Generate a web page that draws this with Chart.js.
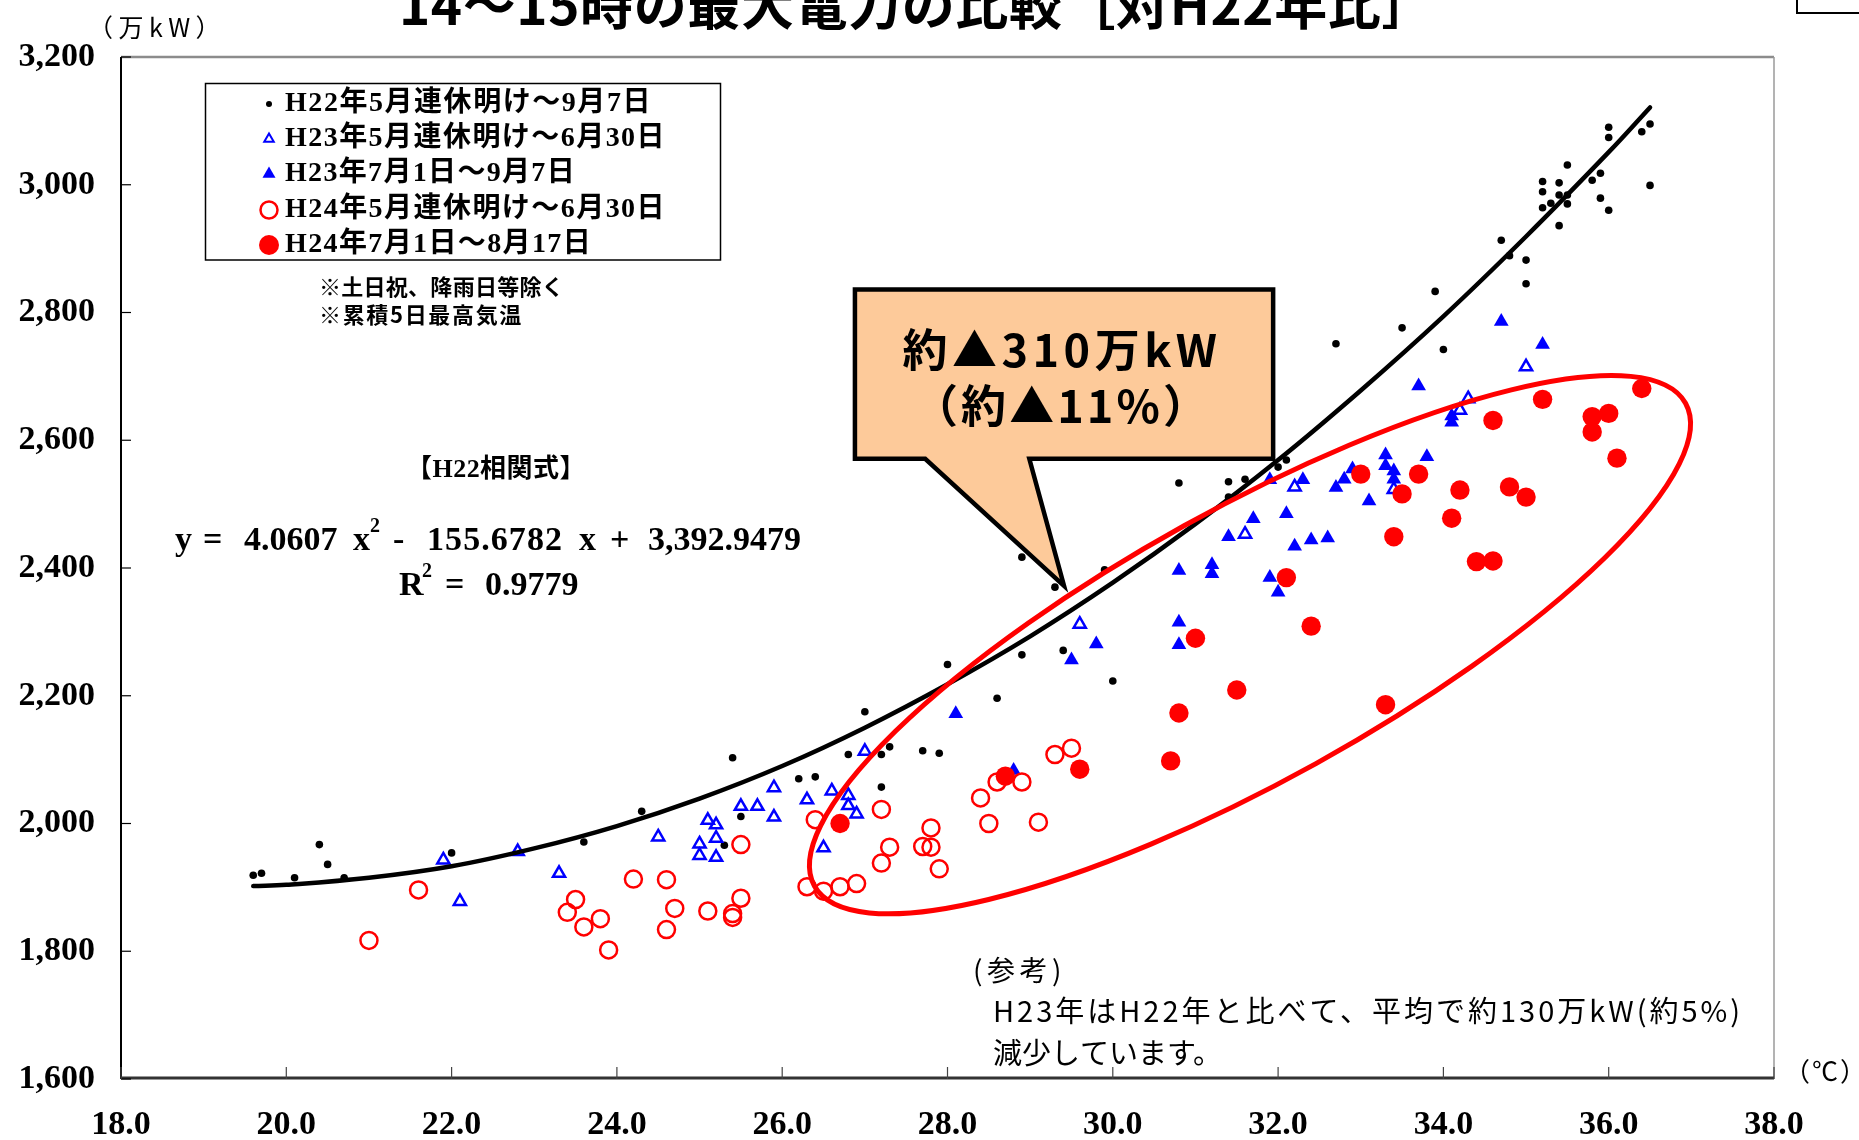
<!DOCTYPE html>
<html lang="ja">
<head>
<meta charset="utf-8">
<title>14～15時の最大電力の比較</title>
<script src="https://cdn.jsdelivr.net/npm/chart.js@4.4.1/dist/chart.umd.min.js"></script>
<style>
  html, body { margin: 0; padding: 0; background: #fff; }
  #wrap { width: 1859px; height: 1140px; position: relative; }
</style>
</head>
<body>
<div id="wrap"><canvas id="myChart" width="1859" height="1140"></canvas></div>
<script>
// 累積5日最高気温(℃) と 14～15時の最大電力(万kW)
const h22Temp  = [19.6, 19.7, 20.1, 20.4, 20.5, 20.7, 22.0, 23.6, 24.3, 25.3, 25.4, 25.5, 26.2, 26.4, 26.8, 27.0, 27.2, 27.3, 27.2, 27.7, 27.9, 28.0, 28.6, 28.9, 28.9, 29.3, 29.4, 29.9, 30.0, 30.8, 31.4, 31.6, 31.4, 32.0, 32.1, 32.7, 33.5, 33.9, 34.0, 34.7, 34.8, 35.0, 35.0, 35.2, 35.2, 35.2, 35.3, 35.4, 35.4, 35.4, 35.5, 35.5, 35.5, 35.8, 35.9, 35.9, 36.0, 36.0, 36.0, 36.4, 36.5, 36.5];
const h22Power = [1919, 1922, 1915, 1967, 1936, 1915, 1954, 1971, 2019, 1966, 2103, 2011, 2070, 2073, 2108, 2175, 2108, 2120, 2057, 2114, 2110, 2249, 2196, 2264, 2417, 2370, 2271, 2397, 2223, 2533, 2535, 2539, 2511, 2558, 2569, 2751, 2776, 2833, 2742, 2913, 2889, 2882, 2845, 3005, 2989, 2964, 2971, 3003, 2984, 2936, 3031, 2984, 2970, 3007, 3018, 2979, 2960, 3090, 3074, 3083, 3095, 2999];

const h23aTemp  = [21.9, 22.8, 22.1, 23.3, 24.5, 25.1, 25.2, 25.2, 25.0, 25.0, 25.2, 25.5, 25.7, 25.9, 25.9, 26.3, 26.6, 26.8, 26.8, 26.9, 26.5, 27.0, 29.6, 31.6, 32.2, 33.4, 34.2, 34.3, 35.0];
const h23aPower = [1943, 1956, 1878, 1922, 1979, 2005, 1998, 1977, 1968, 1950, 1947, 2027, 2027, 2056, 2010, 2037, 2051, 2044, 2028, 2015, 1962, 2113, 2312, 2453, 2527, 2523, 2647, 2665, 2715];

const h23bTemp  = [28.1, 28.8, 29.5, 29.8, 30.8, 30.8, 30.8, 31.2, 31.2, 31.4, 31.7, 31.9, 32.0, 31.9, 32.1, 32.2, 32.3, 32.4, 32.6, 32.7, 32.8, 32.9, 33.1, 33.3, 33.3, 33.4, 33.4, 33.7, 33.8, 34.1, 34.1, 34.7, 35.2];
const h23bPower = [2172, 2083, 2256, 2281, 2396, 2315, 2280, 2405, 2391, 2449, 2477, 2385, 2362, 2538, 2485, 2434, 2538, 2444, 2447, 2526, 2539, 2555, 2505, 2577, 2560, 2552, 2539, 2685, 2574, 2638, 2628, 2786, 2750];

const h24aTemp  = [21.0, 21.6, 23.4, 23.5, 23.6, 23.8, 23.9, 24.2, 24.6, 24.7, 24.6, 25.1, 25.4, 25.4, 25.5, 25.5, 26.3, 26.5, 26.7, 26.9, 26.4, 27.2, 27.8, 27.7, 27.8, 27.3, 27.2, 27.9, 28.4, 28.5, 28.6, 28.9, 29.1, 29.3, 29.5];
const h24aPower = [1817, 1896, 1861, 1881, 1838, 1851, 1802, 1913, 1912, 1867, 1834, 1863, 1859, 1853, 1883, 1967, 1901, 1894, 1901, 1906, 2006, 2022, 1993, 1964, 1963, 1963, 1938, 1929, 2040, 2000, 2065, 2065, 2002, 2108, 2118];

const h24bTemp  = [26.7, 28.7, 29.6, 30.7, 30.8, 31.0, 31.5, 32.1, 32.4, 33.0, 33.3, 33.4, 33.5, 33.7, 34.1, 34.2, 34.4, 34.6, 34.6, 34.8, 35.0, 35.2, 35.8, 35.8, 36.0, 36.1, 36.4];
const h24bPower = [2000, 2074, 2085, 2098, 2173, 2290, 2209, 2385, 2309, 2547, 2186, 2449, 2516, 2547, 2478, 2522, 2410, 2411, 2631, 2527, 2511, 2664, 2637, 2613, 2642, 2572, 2681];

// H22相関式の曲線
const trendTemp  = [19.6, 20, 21, 22, 23, 24, 25, 26, 27, 28, 29, 30, 31, 32, 33, 34, 35, 36, 36.5];
const trendPower = [1902, 1904, 1915, 1933, 1961, 1996, 2039, 2090, 2150, 2218, 2293, 2377, 2469, 2569, 2678, 2794, 2919, 3051, 3121];

const tempTicks  = [18, 20, 22, 24, 26, 28, 30, 32, 34, 36, 38];
const powerTicks = [1600, 1800, 2000, 2200, 2400, 2600, 2800, 3000, 3200];

const seriesLabels = [
  'H22年5月連休明け～9月7日',
  'H23年5月連休明け～6月30日',
  'H23年7月1日～9月7日',
  'H24年5月連休明け～6月30日',
  'H24年7月1日～8月17日'
];

function pairs(xs, ys) {
  return xs.map((x, i) => ({ x: x, y: ys[i] }));
}

const serif = '"Liberation Serif", "Noto Sans CJK JP"';
const gothic = '"Noto Sans CJK JP", "Noto Sans"';

// 文字を指定幅に合わせて描く
function drawText(ctx, text, x, y, font, width, align) {
  ctx.font = font;
  ctx.textBaseline = 'middle';
  ctx.textAlign = 'left';
  let x0 = x;
  if (width) {
    const w = ctx.measureText(text).width;
    const n = Array.from(text).length;
    ctx.letterSpacing = ((width - w) / n) + 'px';
    if (align === 'center') x0 = x - width / 2;
  } else if (align === 'center') {
    x0 = x - ctx.measureText(text).width / 2;
  }
  ctx.fillText(text, x0, y);
  ctx.letterSpacing = '0px';
}

function marker(ctx, style, r, fill, stroke, lw, x, y) {
  ctx.beginPath();
  if (style === 'triangle') {
    ctx.moveTo(x, y - r);
    ctx.lineTo(x + Math.sin(2 * Math.PI / 3) * r, y + r / 2);
    ctx.lineTo(x - Math.sin(2 * Math.PI / 3) * r, y + r / 2);
    ctx.closePath();
  } else {
    ctx.arc(x, y, r, 0, Math.PI * 2);
  }
  if (fill) { ctx.fillStyle = fill; ctx.fill(); }
  if (stroke) { ctx.strokeStyle = stroke; ctx.lineWidth = lw; ctx.stroke(); }
}

const legendMarks = [
  { style: 'circle', r: 3, fill: '#000' },
  { style: 'triangle', r: 5.5, stroke: '#0000ff', lw: 2 },
  { style: 'triangle', r: 7.5, fill: '#0000ff' },
  { style: 'circle', r: 8.5, stroke: '#ff0000', lw: 2.5 },
  { style: 'circle', r: 10, fill: '#ff0000' }
];
const legendWidths = [367, 381, 291, 381, 307];

const calloutBox = { left: 26.88, right: 31.94, top: 2836, bottom: 2571, base1: 27.73, base2: 28.99, tipX: 29.41, tipY: 2372 };
const ringSpec = { cx: 31.66, cy: 2280, a: 498, b: 136, angle: -29 };

const decor = {
  id: 'decor',
  afterDatasetsDraw(chart) {
    const ctx = chart.ctx;
    const xs = chart.scales.x, ys = chart.scales.y;
    const area = chart.chartArea;
    ctx.save();

    // 枠と軸
    ctx.strokeStyle = '#8c8c8c'; ctx.lineWidth = 2.5;
    ctx.beginPath(); ctx.moveTo(area.left, area.top); ctx.lineTo(area.right, area.top); ctx.stroke();
    ctx.strokeStyle = '#9a9a9a'; ctx.lineWidth = 1.5;
    ctx.beginPath(); ctx.moveTo(area.right, area.top); ctx.lineTo(area.right, area.bottom); ctx.stroke();
    ctx.strokeStyle = '#000'; ctx.lineWidth = 2;
    ctx.beginPath(); ctx.moveTo(area.left, area.top); ctx.lineTo(area.left, area.bottom); ctx.stroke();
    ctx.strokeStyle = '#333'; ctx.lineWidth = 3;
    ctx.beginPath(); ctx.moveTo(area.left, area.bottom - 1); ctx.lineTo(area.right, area.bottom - 1); ctx.stroke();

    // 内向きの目盛
    ctx.lineWidth = 1.2;
    ctx.strokeStyle = '#000';
    powerTicks.forEach(v => {
      const p = ys.getPixelForValue(v);
      ctx.beginPath(); ctx.moveTo(area.left, p); ctx.lineTo(area.left + 10, p); ctx.stroke();
    });
    ctx.strokeStyle = '#444';
    tempTicks.forEach(v => {
      const p = xs.getPixelForValue(v);
      ctx.beginPath(); ctx.moveTo(p, area.bottom); ctx.lineTo(p, area.bottom - 12); ctx.stroke();
    });

    // 凡例
    ctx.strokeStyle = '#000'; ctx.lineWidth = 1.5;
    ctx.strokeRect(205.5, 83.5, 515, 176.5);
    const rows = [104, 139, 174, 210, 245];
    ctx.fillStyle = '#000';
    seriesLabels.forEach((t, i) => {
      const m = legendMarks[i];
      marker(ctx, m.style, m.r, m.fill, m.stroke, m.lw, 269, rows[i]);
      ctx.fillStyle = '#000';
      drawText(ctx, t, 285, rows[i], 'bold 28px ' + serif, legendWidths[i]);
    });

    ctx.fillStyle = '#000';
    drawText(ctx, '※土日祝、降雨日等除く', 319, 287, 'bold 22px ' + gothic, 245);
    drawText(ctx, '※累積5日最高気温', 319, 315, 'bold 22px ' + gothic, 204);

    // 相関式
    drawText(ctx, '【H22相関式】', 496, 470, 'bold 26px ' + serif, 180, 'center');
    const eq = 'bold 34px ' + serif;
    const eqY = 541;
    drawText(ctx, 'y', 175, eqY, eq);
    drawText(ctx, '=', 203, eqY, eq);
    drawText(ctx, '4.0607', 244, eqY, eq);
    drawText(ctx, 'x', 353, eqY, eq);
    drawText(ctx, '2', 370, eqY - 14, 'bold 20px ' + serif);
    drawText(ctx, '-', 393, eqY, eq);
    drawText(ctx, '155.6782', 427, eqY, eq, 136);
    drawText(ctx, 'x', 579, eqY, eq);
    drawText(ctx, '+', 610, eqY, eq);
    drawText(ctx, '3,392.9479', 648, eqY, eq);
    const rY = 586;
    drawText(ctx, 'R', 399, rY, eq);
    drawText(ctx, '2', 422, rY - 14, 'bold 20px ' + serif);
    drawText(ctx, '=', 445, rY, eq);
    drawText(ctx, '0.9779', 485, rY, eq);

    // 吹き出し
    const c = calloutBox;
    ctx.beginPath();
    ctx.moveTo(xs.getPixelForValue(c.left), ys.getPixelForValue(c.top));
    ctx.lineTo(xs.getPixelForValue(c.right), ys.getPixelForValue(c.top));
    ctx.lineTo(xs.getPixelForValue(c.right), ys.getPixelForValue(c.bottom));
    ctx.lineTo(xs.getPixelForValue(c.base2), ys.getPixelForValue(c.bottom));
    ctx.lineTo(xs.getPixelForValue(c.tipX), ys.getPixelForValue(c.tipY));
    ctx.lineTo(xs.getPixelForValue(c.base1), ys.getPixelForValue(c.bottom));
    ctx.lineTo(xs.getPixelForValue(c.left), ys.getPixelForValue(c.bottom));
    ctx.closePath();
    ctx.fillStyle = '#fdca9a';
    ctx.fill();
    ctx.strokeStyle = '#000'; ctx.lineWidth = 4.5; ctx.lineJoin = 'miter';
    ctx.stroke();
    ctx.fillStyle = '#000';
    drawText(ctx, '約▲310万kW', 1062, 350, 'bold 45px ' + gothic, 319, 'center');
    drawText(ctx, '（約▲11%）', 1062, 406, 'bold 45px ' + gothic, 298, 'center');

    // 楕円
    const e = ringSpec;
    ctx.beginPath();
    ctx.ellipse(xs.getPixelForValue(e.cx), ys.getPixelForValue(e.cy), e.a, e.b, e.angle * Math.PI / 180, 0, Math.PI * 2);
    ctx.strokeStyle = '#ff0000'; ctx.lineWidth = 5;
    ctx.stroke();

    // 注記
    ctx.fillStyle = '#000';
    drawText(ctx, '(参考)', 973, 970, '28px ' + gothic, 93);
    drawText(ctx, 'H23年はH22年と比べて、平均で約130万kW(約5%)', 993, 1011, '29px ' + gothic, 750);
    drawText(ctx, '減少しています。', 993, 1053, '29px ' + gothic, 229);
    ctx.restore();
  },
  afterDraw(chart) {
    const ctx = chart.ctx;
    ctx.save();
    ctx.fillStyle = '#000';
    drawText(ctx, '（万kW）', 88, 27, '25px ' + gothic, 138);
    drawText(ctx, '（℃）', 1784, 1071, '26px ' + gothic, 84);
    ctx.font = 'bold 53px ' + gothic;
    ctx.textBaseline = 'alphabetic';
    ctx.textAlign = 'left';
    const title = '14～15時の最大電力の比較［対H22年比］';
    const w = ctx.measureText(title).width;
    ctx.letterSpacing = ((1036 - w) / Array.from(title).length) + 'px';
    ctx.fillText(title, 399, 25);
    ctx.letterSpacing = '0px';
    // 右上の枠
    ctx.strokeStyle = '#000'; ctx.lineWidth = 2;
    ctx.strokeRect(1797, -5, 80, 18);
    ctx.restore();
  }
};

const ctx = document.getElementById('myChart');

new Chart(ctx, {
  type: 'scatter',
  data: {
    datasets: [
      {
        label: 'H22相関式',
        data: pairs(trendTemp, trendPower),
        showLine: true,
        borderColor: '#000',
        borderWidth: 4.5,
        borderCapStyle: 'round',
        pointRadius: 0,
        tension: 0.4,
        fill: false,
        order: 0
      },
      {
        label: seriesLabels[0],
        data: pairs(h22Temp, h22Power),
        pointStyle: 'circle',
        pointRadius: 3.8,
        backgroundColor: '#000',
        borderWidth: 0,
        order: 5
      },
      {
        label: seriesLabels[1],
        data: pairs(h23aTemp, h23aPower),
        pointStyle: 'triangle',
        pointRadius: 7,
        backgroundColor: 'rgba(0,0,0,0)',
        borderColor: '#0000ff',
        borderWidth: 2.5,
        order: 4
      },
      {
        label: seriesLabels[2],
        data: pairs(h23bTemp, h23bPower),
        pointStyle: 'triangle',
        pointRadius: 8.5,
        backgroundColor: '#0000ff',
        borderWidth: 0,
        order: 3
      },
      {
        label: seriesLabels[3],
        data: pairs(h24aTemp, h24aPower),
        pointStyle: 'circle',
        pointRadius: 8.5,
        backgroundColor: 'rgba(0,0,0,0)',
        borderColor: '#ff0000',
        borderWidth: 2.5,
        order: 2
      },
      {
        label: seriesLabels[4],
        data: pairs(h24bTemp, h24bPower),
        pointStyle: 'circle',
        pointRadius: 9.7,
        backgroundColor: '#ff0000',
        borderWidth: 0,
        order: 1
      }
    ]
  },
  options: {
    responsive: false,
    animation: false,
    events: [],
    layout: { padding: { left: 0, right: 85, top: 57, bottom: 0 } },
    plugins: {
      legend: { display: false },
      tooltip: { enabled: false },
      title: { display: false }
    },
    scales: {
      x: {
        type: 'linear',
        min: 18,
        max: 38,
        afterBuildTicks: s => { s.ticks = tempTicks.map(v => ({ value: v })); },
        afterFit: s => { s.height = 61; },
        grid: { display: false, drawTicks: false },
        border: { display: false },
        ticks: {
          color: '#000',
          font: { family: 'Liberation Serif', size: 34, weight: 'bold' },
          padding: 26,
          maxRotation: 0,
          autoSkip: false,
          callback: v => Number(v).toFixed(1)
        }
      },
      y: {
        type: 'linear',
        min: 1600,
        max: 3200,
        afterBuildTicks: s => { s.ticks = powerTicks.map(v => ({ value: v })); },
        afterFit: s => { s.width = 121; },
        grid: { display: false, drawTicks: false },
        border: { display: false },
        ticks: {
          color: '#000',
          font: { family: 'Liberation Serif', size: 34, weight: 'bold' },
          padding: 26,
          autoSkip: false,
          callback: v => Number(v).toLocaleString('en-US')
        }
      }
    }
  },
  plugins: [decor]
});
</script>
</body>
</html>
